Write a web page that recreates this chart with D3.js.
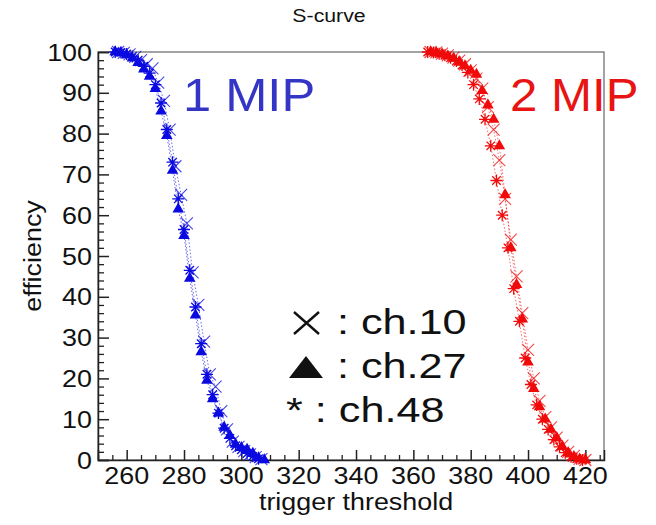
<!DOCTYPE html>
<html><head><meta charset="utf-8">
<script src="https://cdn.jsdelivr.net/npm/d3@7"></script>
<style>html,body{margin:0;padding:0;background:#fff;}svg{display:block;}</style>
</head><body>
<svg id="chart" width="656" height="525"></svg>
<script>
// ---------- data ----------
const title = "S-curve";
const xLabel = "trigger threshold";
const yLabel = "efficiency";
const xTicks = [260, 280, 300, 320, 340, 360, 380, 400, 420];
const yTicks = [0, 10, 20, 30, 40, 50, 60, 70, 80, 90, 100];
const channels = ["ch.10", "ch.27", "ch.48"];

// 1 MIP (blue)
const mip1_ch10_x = [257,259,261,263,265,267,269,271,273,275,277,279,281,283,285,287,289,291,293,295,297,299,301,303,305,307];
const mip1_ch10_y = [100,99.8,99.4,98.8,98,97,96,92.5,88,81,72,65,58,46,38,29,21,18,12,7.5,4.5,3.2,2.2,1.4,0.7,0.2];
const mip1_ch27_x = [256,258,260,262,264,266,268,270,272,274,276,278,280,282,284,286,288,290,292,294,296,298,300,302,304,306,308];
const mip1_ch27_y = [100,99.8,99.3,98.5,97.4,95.8,94,91,85.5,79.5,71,61.5,55,44.5,35.5,26.5,19.5,15,11.5,8,6,3.8,3,2.6,1.6,0.5,0];
const mip1_ch48_x = [256,258,260,262,264,266,268,270,272,274,276,278,280,282,284,286,288,290,292,294,296,298,300,302,304,306];
const mip1_ch48_y = [100,99.9,99.5,98.9,98,96.5,94.8,92,87.5,81,73,64,56.5,46.5,37.5,28.5,21,16,11.5,7.8,5.3,3.5,2.5,1.6,0.9,0.3];

// 2 MIP (red)
const mip2_ch10_x = [366,368,370,372,374,376,378,380,382,384,386,388,390,392,394,396,398,400,402,404,406,408,410,412,414,416,418,420];
const mip2_ch10_y = [100,99.9,99.6,99.2,98.6,97.9,97,95.5,93.5,91,86.5,81,73.5,64,54,45,36,27,20,14.5,10.5,8,5.5,3.5,2,1,0.3,0];
const mip2_ch27_x = [366,368,370,372,374,376,378,380,382,384,386,388,390,392,394,396,398,400,402,404,406,408,410,412,414,416,418,420];
const mip2_ch27_y = [100,99.8,99.5,99,98.4,97.6,96.6,95.5,94.5,90.5,87,83.5,77,65,52,43,34.5,24,17.5,13,10,7.5,5.5,3.3,1.8,0.8,0.2,0];
const mip2_ch48_x = [365,367,369,371,373,375,377,379,381,383,385,387,389,391,393,395,397,399,401,403,405,407,409,411,413,415,417,419];
const mip2_ch48_y = [100,99.9,99.6,99.2,98.6,97.8,96.8,95,92,88.5,83.5,77,68.5,60,52,42,34,25,18.5,13.5,10,7.5,5,3.2,1.8,0.8,0.3,0];

const groups = [
  {label: "1 MIP", color: "#0a0ae0", textColor: "#3535c5",
   series: [{ch: "ch.10", x: mip1_ch10_x, y: mip1_ch10_y},
            {ch: "ch.27", x: mip1_ch27_x, y: mip1_ch27_y},
            {ch: "ch.48", x: mip1_ch48_x, y: mip1_ch48_y}]},
  {label: "2 MIP", color: "#f00a0a", textColor: "#e81414",
   series: [{ch: "ch.10", x: mip2_ch10_x, y: mip2_ch10_y},
            {ch: "ch.27", x: mip2_ch27_x, y: mip2_ch27_y},
            {ch: "ch.48", x: mip2_ch48_x, y: mip2_ch48_y}]}
];

// ---------- layout ----------
const L = 98, R = 604, T = 52, B = 460;
const SX = 1.12;  // horizontal text stretch seen in the reference
const FONT = "'Liberation Sans', Arial, Helvetica, sans-serif";

const svg = d3.select("#chart");
const x = d3.scaleLinear().domain([250, 426.5]).range([L, R]);
const y = d3.scaleLinear().domain([0, 100]).range([B, T]);

function txt(px, py, s, size, anchor, color, rot, sx) {
  return svg.append("text")
    .attr("transform", `translate(${px},${py})${rot ? ` rotate(${rot})` : ""} scale(${sx || SX},1)`)
    .attr("text-anchor", anchor || "start")
    .attr("font-family", FONT)
    .attr("font-size", size)
    .attr("fill", color || "#111")
    .text(s);
}

// frame (top/right)
svg.append("rect").attr("x", L).attr("y", T).attr("width", R - L).attr("height", B - T)
  .attr("fill", "none").attr("stroke", "#666").attr("stroke-width", 1.2);

// y axis ticks (inward)
const yMinor = d3.range(0, 101, 2).filter(v => v % 10 !== 0);
svg.append("g").attr("transform", `translate(${L},0)`)
  .call(d3.axisLeft(y).tickValues(yTicks).tickSize(-11).tickFormat(""))
  .call(g => g.select(".domain").attr("stroke", "#222").attr("stroke-width", 1.5))
  .call(g => g.selectAll(".tick line").attr("stroke", "#222").attr("stroke-width", 1.5));
svg.append("g").attr("transform", `translate(${L},0)`)
  .call(d3.axisLeft(y).tickValues(yMinor).tickSize(-6).tickFormat(""))
  .call(g => g.select(".domain").remove())
  .call(g => g.selectAll(".tick line").attr("stroke", "#222").attr("stroke-width", 1.3));

// x axis ticks (inward)
const xMinor = d3.range(250, 427, 5).filter(v => v % 20 !== 0);
svg.append("g").attr("transform", `translate(0,${B})`)
  .call(d3.axisBottom(x).tickValues(xTicks).tickSize(-10).tickFormat(""))
  .call(g => g.select(".domain").attr("stroke", "#222").attr("stroke-width", 1.5))
  .call(g => g.selectAll(".tick line").attr("stroke", "#222").attr("stroke-width", 1.5));
svg.append("g").attr("transform", `translate(0,${B})`)
  .call(d3.axisBottom(x).tickValues(xMinor).tickSize(-5).tickFormat(""))
  .call(g => g.select(".domain").remove())
  .call(g => g.selectAll(".tick line").attr("stroke", "#222").attr("stroke-width", 1.3));

// tick labels
yTicks.forEach(v => txt(L - 6, y(v) + 8.5, String(v), 24, "end"));
xTicks.forEach(v => txt(x(v), B + 24, String(v), 24, "middle"));

// titles
txt(329, 22, title, 19, "middle");
txt(356, 510, xLabel, 24, "middle");
txt(41, (T + B) / 2, yLabel, 24, "middle", "#111", -90);

// markers
const crossPath = r => `M${-r},${-r}L${r},${r}M${-r},${r}L${r},${-r}`;
const starPath = r => {
  const d = r * 0.7071;
  return `M${-r},0L${r},0M0,${-r}L0,${r}M${-d},${-d}L${d},${d}M${-d},${d}L${d},${-d}`;
};
const tri = d3.symbol(d3.symbolTriangle).size(58)();

groups.forEach(grp => {
  const line = d3.line().x(d => x(d[0])).y(d => y(d[1]));
  grp.series.forEach(s => {
    const pts = s.x.map((v, i) => [v, s.y[i]]);
    svg.append("path").attr("d", line(pts)).attr("fill", "none")
      .attr("stroke", grp.color).attr("stroke-width", 1).attr("stroke-opacity", 0.6)
      .attr("stroke-dasharray", "1.5,2");
  });
  grp.series.forEach(s => {
    const pts = s.x.map((v, i) => [v, s.y[i]]);
    const g = svg.append("g");
    if (s.ch === "ch.10") {
      g.selectAll("path").data(pts).join("path")
        .attr("transform", d => `translate(${x(d[0])},${y(d[1])})`)
        .attr("d", crossPath(6)).attr("stroke", grp.color).attr("stroke-width", 1.1)
        .attr("stroke-opacity", 0.75).attr("fill", "none");
    } else if (s.ch === "ch.27") {
      g.selectAll("path").data(pts).join("path")
        .attr("transform", d => `translate(${x(d[0])},${y(d[1])})`)
        .attr("d", tri).attr("fill", grp.color);
    } else {
      g.selectAll("path").data(pts).join("path")
        .attr("transform", d => `translate(${x(d[0])},${y(d[1])})`)
        .attr("d", starPath(6)).attr("stroke", grp.color).attr("stroke-width", 1.3)
        .attr("fill", "none");
    }
  });
});

// group labels
txt(183, 111, groups[0].label, 46, "start", groups[0].textColor, 0, 1.1);
txt(510, 111, groups[1].label, 46, "start", groups[1].textColor, 0, 1.07);

// legend
svg.append("path").attr("d", `M294,312L319,334M294,334L319,312`)
  .attr("stroke", "#111").attr("stroke-width", 2.4).attr("fill", "none");
txt(337, 334, ": " + channels[0], 36, "start", "#111", 0, 1.2);
svg.append("path").attr("d", `M289,378L323,378L306,356Z`).attr("fill", "#111");
txt(337, 378, ": " + channels[1], 36, "start", "#111", 0, 1.2);
txt(286, 422, "* : " + channels[2], 36, "start", "#111", 0, 1.2);
</script>
</body></html>
